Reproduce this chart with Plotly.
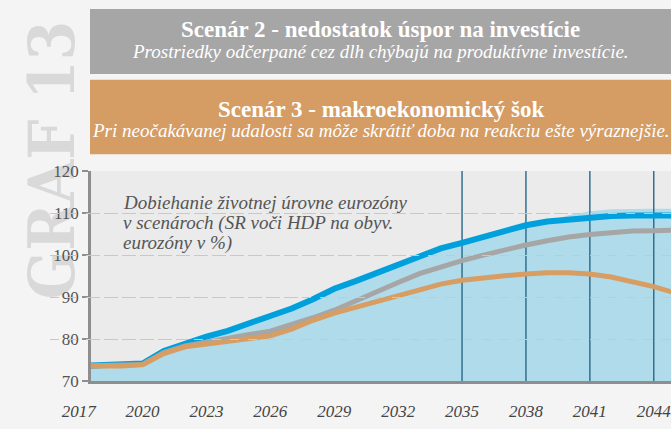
import plotly.graph_objects as go

# data (index to the euro-area level, %)
years = list(range(2017, 2046))
scenar_1 = [73.6, 73.8, 74.0, 74.2, 77.2, 79.0, 80.6, 82.0, 83.7, 85.4, 87.3, 89.5, 92.0, 93.8, 95.8,
            97.9, 99.9, 101.6, 102.9, 104.4, 105.6, 107.1, 108.0, 108.5, 108.9, 109.3, 109.4, 109.4, 109.4]
scenar_2 = [73.6, 73.7, 73.8, 74.0, 76.8, 78.4, 79.3, 80.3, 81.1, 81.9, 83.4, 85.1, 86.9, 89.2, 91.4,
            93.5, 95.6, 97.2, 98.7, 100.0, 101.3, 102.4, 103.4, 104.3, 104.9, 105.4, 105.7, 105.8, 105.9]
scenar_3 = [73.6, 73.6, 73.6, 73.9, 76.6, 78.2, 78.9, 79.6, 80.2, 80.8, 82.4, 84.5, 86.2, 87.6, 89.2,
            90.6, 91.9, 93.1, 94.0, 94.6, 95.1, 95.5, 95.8, 95.8, 95.5, 94.8, 93.8, 92.5, 91.0]
pasmo = [72.9, 73.0, 73.1, 73.3, 76.7, 78.7, 80.3, 81.7, 83.4, 85.1, 87.0, 89.2, 91.7, 93.5, 95.5,
         97.6, 99.6, 101.3, 102.6, 104.1, 105.3, 106.8, 108.0, 109.5, 110.4, 110.9, 111.0, 111.0, 111.0]
marker_years = [2035, 2038, 2041, 2044]
x_tick_years = [2017, 2020, 2023, 2026, 2029, 2032, 2035, 2038, 2041, 2044]
y_ticks = [70, 80, 90, 100, 110, 120]

note_lines = ["Dobiehanie životnej úrovne eurozóny",
              "v scenároch (SR voči HDP na obyv.",
              "eurozóny v %)"]

W, H = 671, 429
SERIF = "Liberation Serif, DejaVu Serif, serif"
X0, X1 = 2017.58, 2044.81            # visible years of the plot (x=91..671 px)
PPY = (671 - 91) / (X1 - X0)         # px per year, used for the label axis


def px(x):
    return x / W


def py(y):
    return 1 - y / H


fig = go.Figure()
fig.add_trace(go.Scatter(x=years, y=pasmo, mode="lines", line=dict(width=0),
                         fill="tozeroy", fillcolor="#b0dbea", hoverinfo="skip"))

vx, vy = [], []
for yr in marker_years:
    vx += [yr, yr, None]
    vy += [70, 120, None]
fig.add_trace(go.Scatter(x=vx, y=vy, mode="lines", line=dict(color="#33708f", width=1.5)))

fig.add_trace(go.Scatter(x=years, y=scenar_1, mode="lines", line=dict(color="#00a0dd", width=6)))
fig.add_trace(go.Scatter(x=years, y=scenar_2, mode="lines", line=dict(color="#a6a6a6", width=5)))
fig.add_trace(go.Scatter(x=years, y=scenar_3, mode="lines", line=dict(color="#d79d63", width=5)))
# empty trace so the label axis (x2) gets drawn
fig.add_trace(go.Scatter(x=[], y=[], xaxis="x2", yaxis="y"))

fig.update_layout(
    width=W, height=H,
    margin=dict(l=0, r=0, t=0, b=0),
    paper_bgcolor="#f4f4f4",
    plot_bgcolor="rgba(0,0,0,0)",
    showlegend=False,
    xaxis=dict(domain=[px(91), 1], range=[X0, X1], showgrid=False, zeroline=False,
               showline=True, linecolor="#8e8e8e", linewidth=3, showticklabels=False, ticks=""),
    xaxis2=dict(domain=[px(50), 1], range=[X0 - 41 / PPY, X1], anchor="y",
                showgrid=False, zeroline=False, showline=False, ticks="",
                tickvals=x_tick_years, ticktext=["<i>%d</i>" % v for v in x_tick_years],
                ticklabelstandoff=18, ticklabeloverflow="allow",
                tickfont=dict(family=SERIF, size=17, color="#444444")),
    yaxis=dict(domain=[py(389.5), py(169.5)], range=[70, 120], tickvals=y_ticks,
               ticktext=[str(v) for v in y_ticks],
               tickfont=dict(family=SERIF, size=17, color="#555555"),
               ticks="outside", ticklen=6, tickwidth=2, tickcolor="#8e8e8e",
               showline=True, linecolor="#8e8e8e", linewidth=2.5,
               showgrid=True, gridcolor="#c8c8c8", griddash="dash", gridwidth=1, zeroline=False),
)

# plot background (only behind the main plot, under the grid)
fig.add_shape(type="rect", xref="x domain", yref="y domain", x0=0, x1=1, y0=0, y1=1,
              fillcolor="#ebebeb", line_width=0, layer="below")

# header bands and watermark
fig.add_shape(type="rect", xref="paper", yref="paper", x0=px(90), x1=1, y0=py(68), y1=1,
              fillcolor="#a6a6a6", line_width=0, layer="below")
fig.add_shape(type="rect", xref="paper", yref="paper", x0=px(90), x1=1, y0=py(152), y1=py(74),
              fillcolor="#d59c63", line_width=0, layer="below")
fig.add_shape(type="rect", xref="paper", yref="paper", x0=px(8), x1=px(88), y0=py(308), y1=py(8),
              fillcolor="rgba(0,0,0,0)", line_width=0, layer="below",
              label=dict(text="<b>GRAF 13</b>", textangle=-90, textposition="middle center",
                         font=dict(family="DejaVu Serif Condensed, Liberation Serif, serif",
                                   size=63, color="#d9d9d9")))

cx = px((90 + 671) / 2)
headers = [("<b>Scenár 2 - nedostatok úspor na investície</b>", 21, 23),
           ("<i>Prostriedky odčerpané cez dlh chýbajú na produktívne investície.</i>", 44, 19),
           ("<b>Scenár 3 - makroekonomický šok</b>", 105, 23),
           ("<i>Pri neočakávanej udalosti sa môže skrátiť doba na reakciu ešte výraznejšie.</i>", 127, 19)]
for text, ypix, size in headers:
    fig.add_annotation(xref="paper", yref="paper", x=cx, y=py(ypix), xanchor="center",
                       yanchor="middle", showarrow=False, text=text,
                       font=dict(family=SERIF, size=size, color="white"))

for i, line in enumerate(note_lines):
    fig.add_annotation(xref="paper", yref="paper", x=px(121), y=py(202 + 21.5 * i),
                       xanchor="left", yanchor="middle", showarrow=False, text="<i>%s</i>" % line,
                       font=dict(family=SERIF, size=19, color="#555555"))

fig.write_html("out.html", config={"displayModeBar": False},
               post_script="document.documentElement.style.margin='0';document.body.style.margin='0';")
